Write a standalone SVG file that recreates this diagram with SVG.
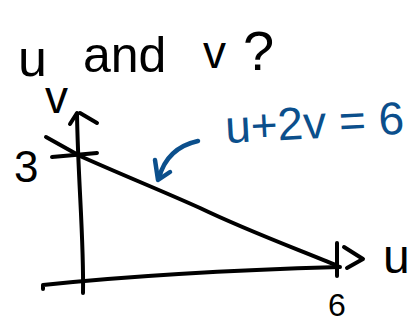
<svg xmlns="http://www.w3.org/2000/svg" width="417" height="323" viewBox="0 0 417 323">
<style>
.ink{fill:none;stroke:#000;stroke-width:4;stroke-linecap:round;stroke-linejoin:round}
.blue{fill:none;stroke:#0b4f8c;stroke-width:4.5;stroke-linecap:round;stroke-linejoin:round}
.t{font-family:"Liberation Sans","DejaVu Sans",sans-serif;fill:#000}
.tb{font-family:"Liberation Sans","DejaVu Sans",sans-serif;fill:#0b4f8c}
</style>
<rect width="417" height="323" fill="#fff"/>
<g id="title">
<text class="t" x="18" y="76" font-size="52">u</text>
<text class="t" x="83" y="72" font-size="50">and</text>
<text class="t" x="203" y="68" font-size="46">v</text>
<text class="t" x="243" y="70" font-size="56">?</text>
</g>
<g id="axes">
<path class="ink" d="M77,114 C78,180 84,240 83,293"/>
<path class="ink" d="M70,124 L77,113 M80,113 L97,123"/>
<path class="ink" d="M43,289 L43,285 C100,279 200,271 340,267"/>
<path class="ink" d="M344,247 L363,259 L347,268"/>
<path class="ink" d="M337,243 L337,276"/>
<path class="ink" d="M52,157 L97,153"/>
</g>
<g id="line">
<path class="ink" d="M46,137 L80,156 C120,174 160,190 200,208 C250,232 300,250 338,266"/>
</g>
<g id="labels">
<text class="t" x="45" y="113" font-size="46">v</text>
<text class="t" x="14" y="182" font-size="44">3</text>
<text class="t" x="328" y="316" font-size="32">6</text>
<text class="t" x="383" y="273" font-size="48">u</text>
</g>
<g id="annotation">
<path class="blue" d="M198,141 C180,145 165,155 159,178"/>
<path class="blue" d="M155,160 L158,180 L170,172"/>
<text class="tb" x="226" y="143" font-size="46" transform="rotate(-3 226 143)">u+2v = 6</text>
</g>
</svg>
